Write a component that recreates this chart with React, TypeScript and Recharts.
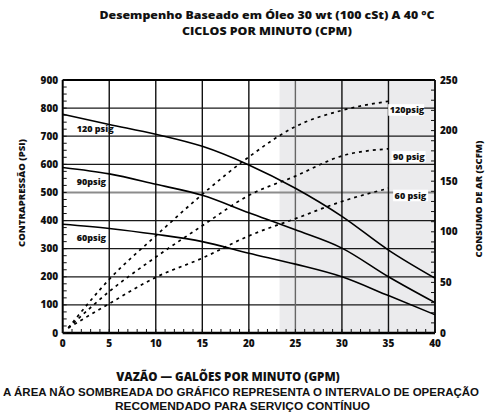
import {
  ComposedChart,
  Line,
  XAxis,
  YAxis,
  ReferenceArea,
  ReferenceLine,
  ReferenceDot,
} from "recharts";

// pressure curves (PSI) vs flow (GPM)
const gpmPoints = [0, 5, 10, 15, 20, 25, 30, 35, 40];
const psi120 = [778, 742, 707, 664, 598, 515, 415, 295, 195];
const psi90 = [589, 566, 529, 490, 428, 367, 302, 200, 108];
const psi60 = [387, 372, 351, 325, 284, 245, 200, 133, 65];

// air consumption curves (SCFM) vs flow (GPM)
const airGpm = [0.6, 5, 10, 15, 20, 25, 30, 35];
const scfm120 = [5, 53, 96, 137, 174, 204, 220, 229];
const scfm90 = [5, 41, 75, 106, 136, 155, 175, 182];
const scfm60 = [5, 29, 55, 74, 96, 113, 130, 143];

// shaded (non recommended) range
const shadeFrom = 23.3;
const shadeTo = 40;

// grid
const psiGrid = [100, 200, 300, 400, 500, 600, 700, 800];
const gpmGrid = [5, 10, 15, 20, 25, 30, 35];

// ticks
const gpmTicks = Array.from({ length: 41 }, (_, i) => i);
const cpmTicks = Array.from({ length: 25 }, (_, i) => i * 5);
const psiTicks = Array.from({ length: 37 }, (_, i) => i * 25);
const scfmTicks = Array.from({ length: 26 }, (_, i) => i * 10);

// curve tags
const leftTags = [
  { text: "120 psig", gpm: 1.5, psi: 714 },
  { text: "90psig", gpm: 1.5, psi: 526 },
  { text: "60psig", gpm: 1.5, psi: 327 },
];
const rightTags = [
  { text: "120psig", gpm: 34.97, scfm: 220.4, w: 36 },
  { text: "90 psig", gpm: 35.33, scfm: 174.2, w: 34 },
  { text: "60 psig", gpm: 35.5, scfm: 135.9, w: 35 },
];

const toRows = (xs: number[], ys: number[]) =>
  xs.map((x, i) => ({ gpm: x, v: ys[i] }));

const SANS = "'Open Sans', sans-serif";
const ARIAL = "'Liberation Sans', Arial, sans-serif";
const TICK_FONT = { fontFamily: SANS, fontWeight: 800, fontSize: 10, fill: "#111" };

function BottomTick(p: any) {
  const { x, y, payload } = p;
  const major = payload.value % 5 === 0;
  return (
    <g>
      <line x1={x} x2={x} y1={y} y2={y - 4} stroke="#111" strokeWidth={1} />
      {major && (
        <text x={x} y={y + 14} textAnchor="middle" {...TICK_FONT}>
          {payload.value}
        </text>
      )}
    </g>
  );
}

function TopTick(p: any) {
  const { x, y, payload } = p;
  const major = payload.value % 20 === 0;
  return (
    <g>
      <line x1={x} x2={x} y1={y} y2={y + 4} stroke="#111" strokeWidth={1} />
      {major && (
        <text x={x} y={y - 5} textAnchor="middle" {...TICK_FONT}>
          {payload.value}
        </text>
      )}
    </g>
  );
}

function LeftTick(p: any) {
  const { x, y, payload } = p;
  const major = payload.value % 100 === 0;
  return (
    <g>
      <line x1={x} x2={x + 4} y1={y} y2={y} stroke="#111" strokeWidth={1} />
      {major && (
        <text x={x - 4.5} y={y + 3.5} textAnchor="end" {...TICK_FONT}>
          {payload.value}
        </text>
      )}
    </g>
  );
}

function RightTick(p: any) {
  const { x, y, payload } = p;
  const major = payload.value % 50 === 0;
  return (
    <g>
      <line x1={x} x2={x - 4} y1={y} y2={y} stroke="#111" strokeWidth={1} />
      {major && (
        <text x={x + 5} y={y + 3.5} textAnchor="start" {...TICK_FONT}>
          {payload.value}
        </text>
      )}
    </g>
  );
}

export default function App() {
  return (
    <div
      style={{
        position: "absolute",
        left: 0,
        top: 0,
        width: 495,
        height: 415,
        background: "#fff",
      }}
    >
      <ComposedChart
        width={495}
        height={415}
        margin={{ top: 50, right: 10, bottom: 52, left: 12.7 }}
      >
        <XAxis
          xAxisId="gpm"
          dataKey="gpm"
          type="number"
          orientation="bottom"
          domain={[0, 40]}
          ticks={gpmTicks}
          interval={0}
          height={30}
          tickSize={0}
          tickMargin={0}
          tick={<BottomTick />}
          axisLine={{ stroke: "#000", strokeWidth: 2.5 }}
        />
        <XAxis
          xAxisId="cpm"
          type="number"
          orientation="top"
          domain={[0, 120]}
          ticks={cpmTicks}
          interval={0}
          height={30}
          tickSize={0}
          tickMargin={0}
          tick={<TopTick />}
          axisLine={{ stroke: "#000", strokeWidth: 1.8 }}
        />
        <YAxis
          yAxisId="psi"
          type="number"
          orientation="left"
          domain={[0, 900]}
          ticks={psiTicks}
          interval={0}
          width={50}
          tickSize={0}
          tickMargin={0}
          tick={<LeftTick />}
          axisLine={{ stroke: "#000", strokeWidth: 2 }}
        />
        <YAxis
          yAxisId="scfm"
          type="number"
          orientation="right"
          domain={[0, 250]}
          ticks={scfmTicks}
          interval={0}
          width={50}
          tickSize={0}
          tickMargin={0}
          tick={<RightTick />}
          axisLine={{ stroke: "#000", strokeWidth: 1.8 }}
        />

        <ReferenceArea
          xAxisId="gpm"
          yAxisId="psi"
          x1={shadeFrom}
          x2={shadeTo}
          fill="#ebebed"
          fillOpacity={1}
          stroke="none"
        />
        {psiGrid.map((v) => (
          <ReferenceLine
            key={"h" + v}
            xAxisId="gpm"
            yAxisId="psi"
            y={v}
            stroke={v === 500 ? "#8c8c8c" : "#1a1a1a"}
            strokeWidth={v === 500 ? 2 : 1.3}
          />
        ))}
        {gpmGrid.map((v) => (
          <ReferenceLine
            key={"v" + v}
            xAxisId="gpm"
            yAxisId="psi"
            x={v}
            stroke={v === 25 ? "#666" : "#111"}
            strokeWidth={1.4}
          />
        ))}

        <Line
          xAxisId="gpm"
          yAxisId="psi"
          data={toRows(gpmPoints, psi120)}
          dataKey="v"
          type="monotone"
          stroke="#000"
          strokeWidth={1.6}
          dot={false}
          isAnimationActive={false}
        />
        <Line
          xAxisId="gpm"
          yAxisId="psi"
          data={toRows(gpmPoints, psi90)}
          dataKey="v"
          type="monotone"
          stroke="#000"
          strokeWidth={1.6}
          dot={false}
          isAnimationActive={false}
        />
        <Line
          xAxisId="gpm"
          yAxisId="psi"
          data={toRows(gpmPoints, psi60)}
          dataKey="v"
          type="monotone"
          stroke="#000"
          strokeWidth={1.6}
          dot={false}
          isAnimationActive={false}
        />
        <Line
          xAxisId="gpm"
          yAxisId="scfm"
          data={toRows(airGpm, scfm120)}
          dataKey="v"
          type="monotone"
          stroke="#000"
          strokeWidth={1.7}
          strokeDasharray="3 4"
          dot={false}
          isAnimationActive={false}
        />
        <Line
          xAxisId="gpm"
          yAxisId="scfm"
          data={toRows(airGpm, scfm90)}
          dataKey="v"
          type="monotone"
          stroke="#000"
          strokeWidth={1.7}
          strokeDasharray="3 4"
          dot={false}
          isAnimationActive={false}
        />
        <Line
          xAxisId="gpm"
          yAxisId="scfm"
          data={toRows(airGpm, scfm60)}
          dataKey="v"
          type="monotone"
          stroke="#000"
          strokeWidth={1.7}
          strokeDasharray="3 4"
          dot={false}
          isAnimationActive={false}
        />

        {leftTags.map((t) => (
          <ReferenceDot
            key={t.text}
            xAxisId="gpm"
            yAxisId="psi"
            x={t.gpm}
            y={t.psi}
            r={0}
            shape={(p: any) => (
              <text
                x={p.cx}
                y={p.cy}
                fontFamily={SANS}
                fontWeight={800}
                fontSize={9}
                fill="#111"
              >
                {t.text}
              </text>
            )}
          />
        ))}
        {rightTags.map((t) => (
          <ReferenceDot
            key={t.text}
            xAxisId="gpm"
            yAxisId="scfm"
            x={t.gpm}
            y={t.scfm}
            r={0}
            shape={(p: any) => (
              <g>
                <rect x={p.cx} y={p.cy - 5.8} width={t.w} height={11.6} fill="#fff" />
                <text
                  x={p.cx + 1.5}
                  y={p.cy + 3.2}
                  fontFamily={SANS}
                  fontWeight={800}
                  fontSize={9}
                  fill="#111"
                >
                  {t.text}
                </text>
              </g>
            )}
          />
        ))}
      </ComposedChart>

      <svg
        width={495}
        height={415}
        style={{ position: "absolute", left: 0, top: 0, pointerEvents: "none" }}
      >
        <g fontFamily={SANS} fontWeight={800} fill="#111">
          <text
            x={267}
            y={19}
            textAnchor="middle"
            fontSize={11.2}
            textLength={335}
            lengthAdjust="spacingAndGlyphs"
          >
            Desempenho Baseado em Óleo 30 wt (100 cSt) A 40 °C
          </text>
          <text
            x={267}
            y={34.5}
            textAnchor="middle"
            fontSize={11.2}
            textLength={170}
            lengthAdjust="spacingAndGlyphs"
          >
            CICLOS POR MINUTO (CPM)
          </text>
          <text
            x={24.5}
            y={193}
            textAnchor="middle"
            fontSize={9.5}
            transform="rotate(-90 24.5 193)"
          >
            CONTRAPRESSÃO (PSI)
          </text>
          <text
            x={481.5}
            y={199}
            textAnchor="middle"
            fontSize={9.5}
            transform="rotate(-90 481.5 199)"
          >
            CONSUMO DE AR (SCFM)
          </text>
          <text x={228} y={380.5} textAnchor="middle" fontSize={11.6}>
            VAZÃO — GALÕES POR MINUTO (GPM)
          </text>
        </g>
        <g fontFamily={ARIAL} fontWeight={700} fill="#111" fontSize={10.5}>
          <text
            x={241}
            y={395.5}
            textAnchor="middle"
            textLength={476}
            lengthAdjust="spacingAndGlyphs"
          >
            A ÁREA NÃO SOMBREADA DO GRÁFICO REPRESENTA O INTERVALO DE OPERAÇÃO
          </text>
          <text
            x={242.5}
            y={409.5}
            textAnchor="middle"
            textLength={255}
            lengthAdjust="spacingAndGlyphs"
          >
            RECOMENDADO PARA SERVIÇO CONTÍNUO
          </text>
        </g>
      </svg>
    </div>
  );
}
